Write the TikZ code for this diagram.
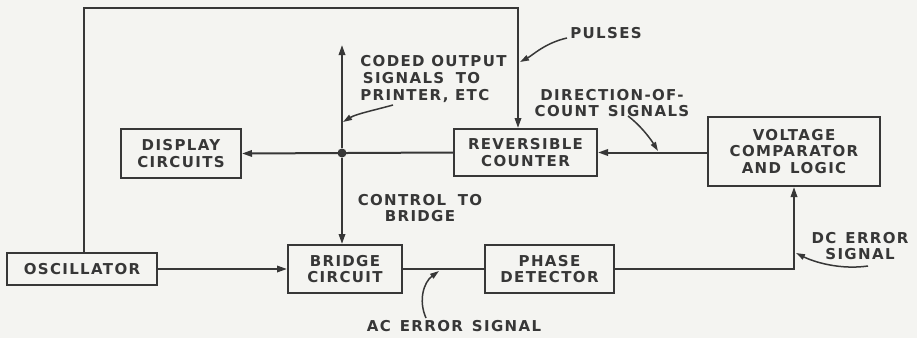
\documentclass[tikz,border=0pt]{standalone}
\usepackage{fontspec}
\setmainfont{DejaVu Sans}[LetterSpace=9]
\usetikzlibrary{arrows.meta, positioning}
\definecolor{paper}{RGB}{244,244,241}
\definecolor{ink}{RGB}{55,55,55}
\tikzset{
  unit/.style = {rectangle, draw=ink, line width=1pt, align=center, inner sep=1pt, font=\fontsize{7.5}{8.4}\selectfont\bfseries, text=ink},
  line/.style = {-{Triangle[length=5pt, width=3.2pt]}, draw=ink, line width=1pt},
  plain/.style = {draw=ink, line width=1pt},
  callout/.style = {-{Triangle[length=4.5pt, width=2.8pt]}, draw=ink, line width=0.75pt},
  caption/.style = {align=center, inner sep=0pt, font=\fontsize{7.5}{8.4}\selectfont\bfseries, text=ink},
  junction/.style = {circle, fill=ink, inner sep=0pt, minimum size=4.5pt}
}

\begin{document}
\begin{tikzpicture}[x=0.5pt, y=-0.5pt]

\fill[paper] (0,0) rectangle (917,338);
\useasboundingbox (0,0) rectangle (917,338);

% Upper row
\node[unit, minimum width=60pt, minimum height=24.5pt] (disp) at (181,153.5) {DISPLAY\\ CIRCUITS};
\node[unit, minimum width=71.5pt, minimum height=23.5pt] (ctr) at (525.5,152.5) {REVERSIBLE\\ COUNTER};
\node[unit, minimum width=86pt, minimum height=34.5pt] (vcl) at (794,151.5) {VOLTAGE\\ COMPARATOR\\ AND\, LOGIC};

% Lower row
\node[unit, minimum width=75pt, minimum height=16pt] (osc) at (82,269) {OSCILLATOR};
\node[unit, minimum width=57pt, minimum height=24pt] (brg) at (345,269) {BRIDGE\\ CIRCUIT};
\node[unit, minimum width=64.5pt, minimum height=24pt] (phd) at (549.5,269) {PHASE\\ DETECTOR};

% Bus junction and free ends
\node[junction] (jn) at (342,153) {};
\coordinate (bustop) at (342,45);
\coordinate (pk) at (518,8);

% Labels
\node[caption] (pulses) at (606,33) {PULSES};
\node[caption, align=left, anchor=west] (coded) at (360,79) {CODED OUTPUT\\ \,SIGNALS\,\, TO\\ PRINTER, ETC};
\node[caption] (dircnt) at (612,103) {DIRECTION-OF-\\ COUNT\, SIGNALS};
\node[caption] (ctrl) at (420,208) {CONTROL\,\, TO\\ BRIDGE};
\node[caption] (acerr) at (454,326) {AC\, ERROR\, SIGNAL};
\node[caption] (dcerr) at (860,246) {DC\, ERROR\\ SIGNAL};

% Arrows
\draw[line] (osc.north -| 84,0) |- (pk) -- (pk |- ctr.north);
\draw[line] (jn) -- (bustop);
\draw[line] (jn) -- (jn |- brg.north);
\draw[line] (ctr.west) -- (disp.east);
\draw[line] (vcl.west |- ctr) -- (ctr.east);
\draw[line] (osc) -- (brg);
\draw[plain] (brg) -- (phd);
\draw[line] (phd.east) -| (vcl.south);

% Callouts
\draw[callout] (567,38) .. controls (545,43) and (533,55) .. (520,62);
\draw[callout] (393,105) .. controls (375,110) and (356,114) .. (343,122);
\draw[callout] (628,116) .. controls (640,125) and (650,138) .. (658,151);
\draw[callout] (426,318) .. controls (418,300) and (424,282) .. (439,271);
\draw[callout] (868,266) .. controls (840,270) and (814,262) .. (796,253);

\end{tikzpicture}
\end{document}
